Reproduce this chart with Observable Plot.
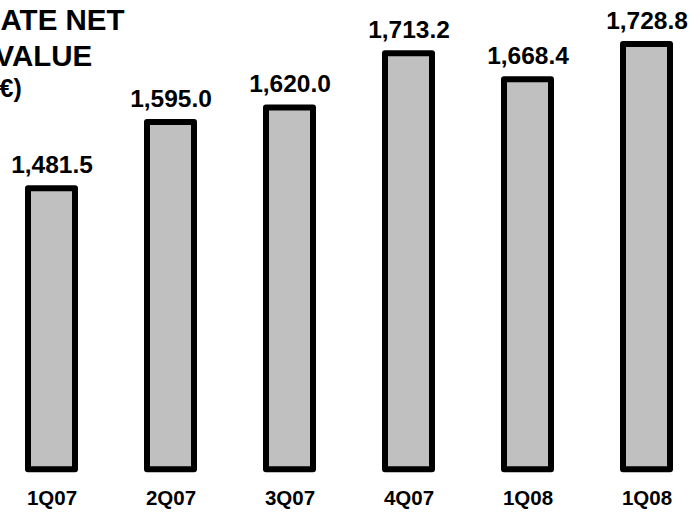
<!DOCTYPE html>
<html>
<head>
<meta charset="utf-8">
<script src="https://cdn.jsdelivr.net/npm/d3@7"></script>
<script src="https://cdn.jsdelivr.net/npm/@observablehq/plot@0.6"></script>
<style>
  html, body { margin: 0; padding: 0; background: #fff; }
  #chart { width: 699px; height: 512px; overflow: hidden; }
  svg { font-family: "Liberation Sans", Arial, sans-serif; }
</style>
</head>
<body>
<div id="chart"></div>
<script>
// Data
const quarters = ["1Q07", "2Q07", "3Q07", "4Q07", "1Q08", "1Q08"];
const values = [1481.5, 1595.0, 1620.0, 1713.2, 1668.4, 1728.8];
const titleLines = ["ATE NET", "VALUE", "€)"];

const data = quarters.map((q, i) => ({i, q, v: values[i]}));
const fmt = d3.format(",.1f");
const FONT = "Liberation Sans, Arial, sans-serif";

const chart = Plot.plot({
  width: 699,
  height: 512,
  marginLeft: 0,
  marginRight: 0,
  marginTop: 2.5,
  marginBottom: 42.7,
  style: {fontFamily: FONT, background: "white", overflow: "hidden"},
  x: {
    type: "band",
    domain: d3.range(quarters.length),
    range: [27.5, 670.1],
    paddingInner: 0.605,
    paddingOuter: 0,
    label: null
  },
  y: {domain: [1000, 1800], range: [469.3, 2.5], axis: null},
  marks: [
    Plot.barY(data, {
      x: "i", y1: 1000, y2: "v",
      fill: "#c0c0c0", stroke: "black", strokeWidth: 6, strokeLinejoin: "round"
    }),
    Plot.text(data, {
      x: "i", y: "v", text: d => fmt(d.v),
      lineAnchor: "bottom", dy: -16,
      fontSize: 24.5, fontWeight: "bold", fill: "black", fontFamily: FONT
    }),
    Plot.axisX({
      tickSize: 0, tickPadding: 20.8,
      tickFormat: i => quarters[i],
      fontSize: 20.5, fontWeight: "bold", fill: "black", fontFamily: FONT, label: null
    }),
    Plot.text([titleLines[0]], {frameAnchor: "top-left", text: d => d, lineAnchor: "bottom", dy: 29 - 2.5, dx: 0,
      fontSize: 29.5, fontWeight: "bold", fill: "black", fontFamily: FONT, textAnchor: "start"}),
    Plot.text([titleLines[1]], {frameAnchor: "top-left", text: d => d, lineAnchor: "bottom", dy: 65 - 2.5, dx: -6,
      fontSize: 29.5, fontWeight: "bold", fill: "black", fontFamily: FONT, textAnchor: "start"}),
    Plot.text([titleLines[2]], {frameAnchor: "top-left", text: d => d, lineAnchor: "bottom", dy: 96 - 2.5, dx: -1,
      fontSize: 25, fontWeight: "bold", fill: "black", fontFamily: FONT, textAnchor: "start"})
  ]
});
document.getElementById("chart").appendChild(chart);
</script>
</body>
</html>
